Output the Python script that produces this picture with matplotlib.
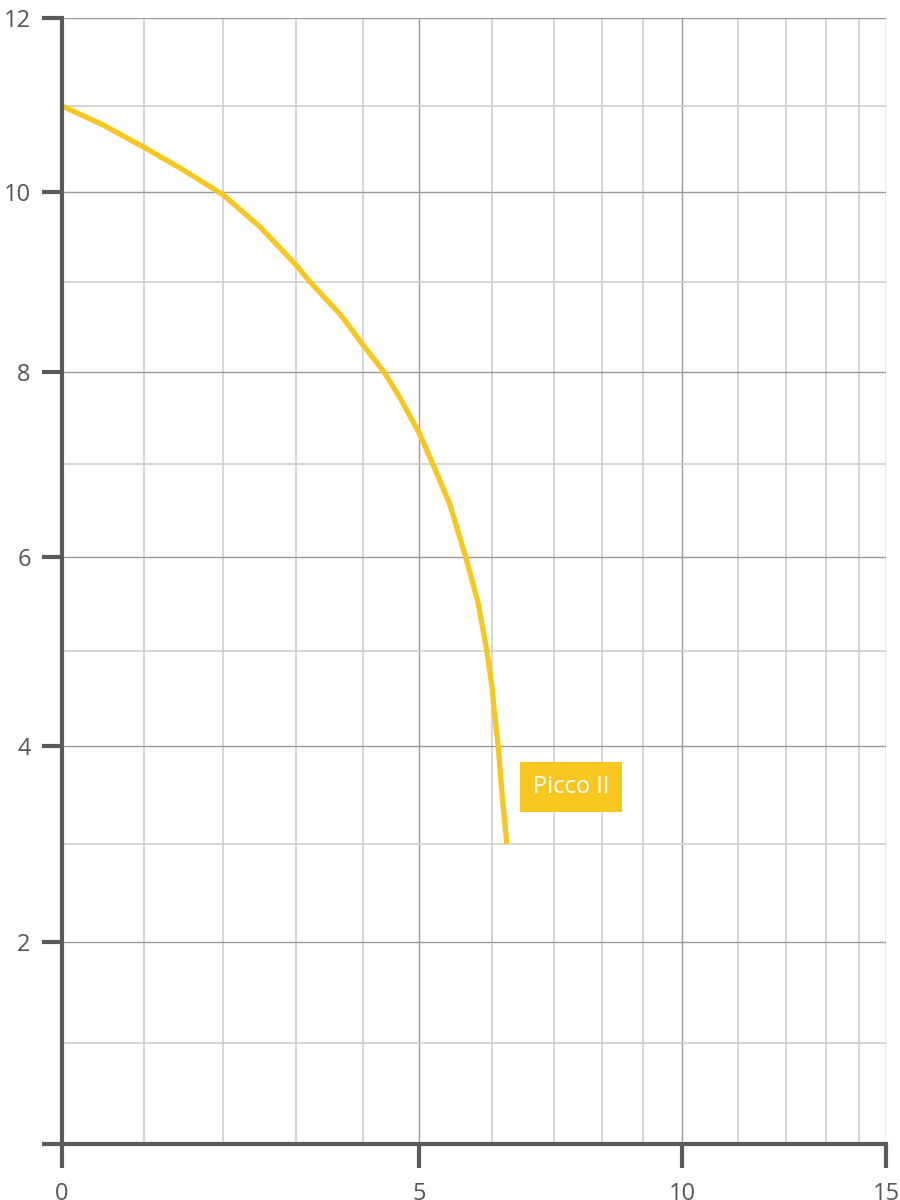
import numpy as np
import matplotlib
matplotlib.use("Agg")
import matplotlib.pyplot as plt

# pump curve Picco II
flow = [0, 0.5, 1, 1.49, 2, 2.51, 3, 3.21, 3.66, 4, 4.375, 4.66, 5, 5.19,
        5.42, 5.64, 5.81, 5.93, 6, 6.03, 6.10, 6.16, 6.24]
head = [11.0, 10.78, 10.52, 10.26, 9.97, 9.61, 9.19, 9.0, 8.64, 8.30, 8.0, 7.72, 7.34, 7.0,
        6.57, 6.0, 5.51, 5.0, 4.62, 4.41, 4.0, 3.52, 3.0]
curve_name = "Picco II"

x_ticks = [0, 5, 10, 15]
y_ticks = [0, 2, 4, 6, 8, 10, 12]
y_labels = ["", "2", "4", "6", "8", "10", "12"]
x_minor = [1, 2, 3, 4, 6, 7, 8, 9, 11, 12, 13, 14]
y_minor = [1, 3, 5, 7, 9, 11]

# the chart's axes are not linear: gridline positions measured in pixels
x_grid_vals = np.arange(16)
x_grid_pix = np.array([62, 144, 223, 296, 363, 419, 492, 554, 602, 643, 682, 738, 786, 826, 859, 886], float)
y_grid_vals = np.arange(13)
y_grid_pix = -np.array([1144, 1043, 942, 844, 746, 651, 557, 464, 372, 282, 192, 106, 18], float)


def xf(v):
    return np.interp(v, x_grid_vals, x_grid_pix)


def xi(p):
    return np.interp(p, x_grid_pix, x_grid_vals)


def yf(v):
    return np.interp(v, y_grid_vals, y_grid_pix)


def yi(p):
    return np.interp(p, y_grid_pix, y_grid_vals)


plt.rcParams['font.family'] = ['Open Sans', 'DejaVu Sans']

fig = plt.figure(figsize=(9, 12), dpi=100)
ax = fig.add_axes([62 / 900, 1 - 1144 / 1200, (886 - 62) / 900, (1144 - 18) / 1200])
ax.set_xscale('function', functions=(xf, xi))
ax.set_yscale('function', functions=(yf, yi))
ax.set_xlim(0, 15)
ax.set_ylim(0, 12)

ax.set_xticks(x_ticks)
ax.set_yticks(y_ticks)
ax.set_xticks(x_minor, minor=True)
ax.set_yticks(y_minor, minor=True)
ax.set_xticklabels([str(t) for t in x_ticks])
ax.set_yticklabels(y_labels)

ax.grid(True, which='major', color='#9a9a9a', linewidth=1.0)
ax.grid(True, which='minor', color='#cfcfcf', linewidth=1.2)
ax.set_axisbelow(True)

for s in ['top', 'right']:
    ax.spines[s].set_visible(False)
for s in ['left', 'bottom']:
    ax.spines[s].set_color('#5a5a5a')
    ax.spines[s].set_linewidth(3)
    ax.spines[s].set_zorder(5)

ax.tick_params(axis='y', which='major', length=14.5, width=3, color='#5a5a5a',
               pad=8, labelsize=17, labelcolor='#555555')
ax.tick_params(axis='x', which='major', length=17.5, width=3, color='#5a5a5a',
               pad=10, labelsize=17, labelcolor='#555555')
ax.tick_params(which='minor', length=0)

ax.plot(flow, head, color='#f7c71f', linewidth=3.8, solid_capstyle='butt',
        solid_joinstyle='round', zorder=3)

ax.text(7.35, 3.58, curve_name, ha='center', va='center', fontsize=17, color='white',
        bbox=dict(boxstyle='square,pad=0.55', facecolor='#f7c71f', edgecolor='none'), zorder=4)

for lab in ax.get_xticklabels() + ax.get_yticklabels():
    lab.set_clip_on(False)

fig.savefig('out.png', dpi=100)
